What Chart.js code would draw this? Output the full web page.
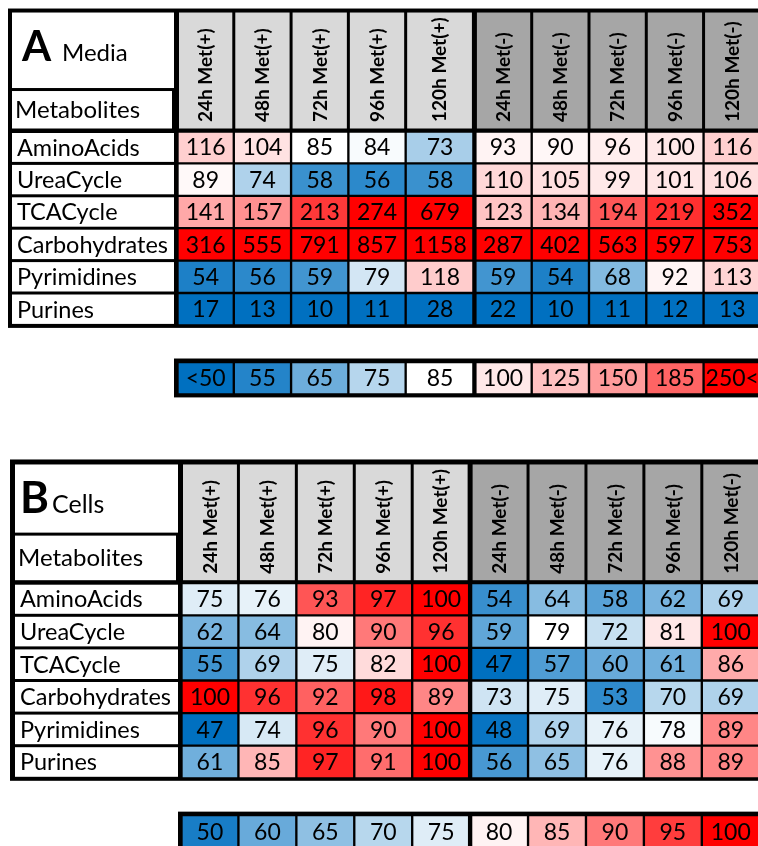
<!DOCTYPE html>
<html>
<head>
<meta charset="utf-8">
<script src="https://cdn.jsdelivr.net/npm/chart.js@4.4.1/dist/chart.umd.min.js"></script>
<style>
  html, body { margin: 0; padding: 0; background: #fff; }
  canvas { display: block; }
</style>
</head>
<body>
<canvas id="media" width="758" height="430"></canvas>
<canvas id="cells" width="758" height="416"></canvas>
<script>
// ---- data ---------------------------------------------------------------
const timepoints = ['24h Met(+)', '48h Met(+)', '72h Met(+)', '96h Met(+)', '120h Met(+)',
                    '24h Met(-)', '48h Met(-)', '72h Met(-)', '96h Met(-)', '120h Met(-)'];
const metabolites = ['AminoAcids', 'UreaCycle', 'TCACycle', 'Carbohydrates', 'Pyrimidines', 'Purines'];

// Media: relative levels per metabolite class and timepoint
const mediaValues = [
  [116, 104,  85,  84,   73,  93,  90,  96, 100, 116],
  [ 89,  74,  58,  56,   58, 110, 105,  99, 101, 106],
  [141, 157, 213, 274,  679, 123, 134, 194, 219, 352],
  [316, 555, 791, 857, 1158, 287, 402, 563, 597, 753],
  [ 54,  56,  59,  79,  118,  59,  54,  68,  92, 113],
  [ 17,  13,  10,  11,   28,  22,  10,  11,  12,  13]
];
// Cells: relative levels per metabolite class and timepoint
const cellValues = [
  [ 75,  76,  93,  97, 100,  54,  64,  58,  62,  69],
  [ 62,  64,  80,  90,  96,  59,  79,  72,  81, 100],
  [ 55,  69,  75,  82, 100,  47,  57,  60,  61,  86],
  [100,  96,  92,  98,  89,  73,  75,  53,  70,  69],
  [ 47,  74,  96,  90, 100,  48,  69,  76,  78,  89],
  [ 61,  85,  97,  91, 100,  56,  65,  76,  88,  89]
];

// colour keys
const mediaKeyValues = [50, 55, 65, 75, 85, 100, 125, 150, 185, 250];
const mediaKeyLabels = ['<50', '55', '65', '75', '85', '100', '125', '150', '185', '250<'];
const cellKeyValues  = [50, 60, 65, 70, 75, 80, 85, 90, 95, 100];
const cellKeyLabels  = ['50', '60', '65', '70', '75', '80', '85', '90', '95', '100'];

// ---- styling --------------------------------------------------------------
const FONT = 'Lato, "Open Sans", sans-serif';
const CAP = 0.7165;                 // cap height / em for Lato
const VALUE_SIZE = 23, ROW_SIZE = 23.5, HEAD_SIZE = 19;
const BLUE = [0, 112, 192], WHITE = [255, 255, 255], RED = [255, 0, 0];
const HEAD_FILL = ['#d9d9d9', '#a6a6a6'];   // Met(+) / Met(-)
const KEY_ROW = 7.63;                // row position of the colour key strip
const FRAME_TOP = -3.78;             // top of the table frame, in row units

function heatColor(v, r) {
  let t, target;
  if (v <= r.mid) { t = (r.mid - Math.max(v, r.lo)) / (r.mid - r.lo); target = BLUE; }
  else { t = (Math.min(v, r.hi) - r.mid) / (r.hi - r.mid); target = RED; }
  const c = WHITE.map((w, i) => Math.round(w + (target[i] - w) * t));
  return `rgb(${c[0]},${c[1]},${c[2]})`;
}

const panels = [
  {
    canvas: 'media', letter: 'A', title: 'Media', letterSize: 42, titleSize: 24,
    letterX: 14, titleX: 54, titleY: -2.15,
    values: mediaValues, keyValues: mediaKeyValues, keyLabels: mediaKeyLabels,
    range: { lo: 50, mid: 85, hi: 250 },
    colUnits: [1, 1, 1, 1, 1.2, 1, 1, 1, 1, 1], xMax: 10.15, yMax: 8.3,
    padding: { left: 176.5, right: 0, top: 7.88, bottom: 30.08 },
    labelWidth: 168.5, frame: 4, split: -1.28
  },
  {
    canvas: 'cells', letter: 'B', title: 'Cells', letterSize: 44, titleSize: 25,
    letterX: 10, titleX: 42, titleY: -2.15,
    values: cellValues, keyValues: cellKeyValues, keyLabels: cellKeyLabels,
    range: { lo: 47, mid: 79, hi: 100 },
    colUnits: [1, 1, 1, 1, 1, 1, 1, 1, 1, 1], xMax: 9.97, yMax: 8.0,
    padding: { left: 180.5, right: 0, top: 28.82, bottom: 2.5 },
    labelWidth: 170.5, frame: 5, split: -1.49
  }
];

const sideBorder = j => ({ left: (j === 0 || j === 5) ? 2.5 : 1.5, right: j === 4 ? 2.5 : 1.5 });

// Frame, header band, row-name column and all text, placed through the chart scales
function tablePlugin(p, edges) {
  return {
    id: 'table' + p.letter,
    beforeDatasetsDraw(chart) {
      const { ctx, scales: { x, y } } = chart;
      const W = chart.width;
      const x0 = x.getPixelForValue(0);
      const fl = x0 - p.labelWidth;
      const top = y.getPixelForValue(FRAME_TOP);
      const headBottom = y.getPixelForValue(0) - 2.5;
      ctx.save();
      ctx.fillStyle = '#000';
      // main table frame
      ctx.fillRect(fl, top, W - fl, y.getPixelForValue(metabolites.length) + 2.5 - top);
      // key strip frame
      const kt = y.getPixelForValue(KEY_ROW - 0.5) - 3.5;
      const kb = y.getPixelForValue(KEY_ROW + 0.5) + 3;
      ctx.fillRect(x0 - 2.5, kt, W - x0 + 2.5, kb - kt);
      // header cells
      timepoints.forEach((tp, j) => {
        const b = sideBorder(j);
        const l = x.getPixelForValue(edges[j]) + b.left;
        const r = x.getPixelForValue(edges[j + 1]) - b.right;
        ctx.fillStyle = HEAD_FILL[j < 5 ? 0 : 1];
        ctx.fillRect(l, top + p.frame, r - l, headBottom - top - p.frame);
      });
      // left column: title box, "Metabolites" box, row names
      const il = fl + p.frame, ir = x0 - 2.5;
      const sp = y.getPixelForValue(p.split);
      ctx.fillStyle = '#fff';
      ctx.fillRect(il, top + p.frame, ir - il, sp - 1.5 - top - p.frame);
      ctx.fillRect(il, sp + 1.5, ir - 2 - il, headBottom - sp - 1.5);
      metabolites.forEach((m, i) => {
        const t = y.getPixelForValue(i) + (i === 0 ? 2 : 1.5);
        const bt = y.getPixelForValue(i + 1) - 1.5;
        ctx.fillRect(il, t, ir - il, bt - t);
      });
      ctx.restore();
    },
    afterDatasetsDraw(chart) {
      const { ctx, scales: { x, y } } = chart;
      const x0 = x.getPixelForValue(0);
      const fl = x0 - p.labelWidth;
      const il = fl + p.frame;
      const headBottom = y.getPixelForValue(0) - 2.5;
      const sp = y.getPixelForValue(p.split);
      ctx.save();
      ctx.fillStyle = '#000';
      ctx.textBaseline = 'alphabetic';

      // cell values and key labels
      ctx.font = `${VALUE_SIZE}px ${FONT}`;
      ctx.textAlign = 'center';
      chart.data.datasets.forEach((ds, j) => {
        chart.getDatasetMeta(j).data.forEach((el, i) => {
          const cx = (el.x + el.base) / 2 + (j === 0 ? 0.5 : 0);
          ctx.fillText(ds.texts[i], cx, el.y + CAP * VALUE_SIZE / 2);
        });
      });

      // row names
      ctx.font = `${ROW_SIZE}px ${FONT}`;
      ctx.textAlign = 'left';
      metabolites.forEach((m, i) => {
        ctx.fillText(m, il + 5, y.getPixelForValue(i + 0.5) + CAP * ROW_SIZE / 2);
      });

      // "Metabolites" heading
      ctx.font = `24px ${FONT}`;
      ctx.fillText('Metabolites', il + 3, (sp + headBottom) / 2 + CAP * 24 / 2);

      // panel letter and title
      const ty = y.getPixelForValue(p.titleY);
      ctx.font = `bold ${p.letterSize}px ${FONT}`;
      ctx.fillText(p.letter, fl + p.letterX, ty);
      ctx.font = `${p.titleSize}px ${FONT}`;
      ctx.fillText(p.title, fl + p.titleX, ty);

      // rotated column headings
      ctx.font = `bold ${HEAD_SIZE}px ${FONT}`;
      timepoints.forEach((tp, j) => {
        const b = sideBorder(j);
        const l = x.getPixelForValue(edges[j]) + b.left;
        const r = x.getPixelForValue(edges[j + 1]) - b.right;
        ctx.save();
        ctx.translate((l + r) / 2 + CAP * HEAD_SIZE / 2, headBottom - 6.5);
        ctx.rotate(-Math.PI / 2);
        ctx.textAlign = 'left';
        ctx.fillText(tp, 0, 0);
        ctx.restore();
      });
      ctx.restore();
    }
  };
}

panels.forEach(p => {
  const edges = [0];
  p.colUnits.forEach(u => edges.push(edges[edges.length - 1] + u));

  const datasets = timepoints.map((tp, j) => {
    const vals = p.values.map(row => row[j]).concat([p.keyValues[j]]);
    const texts = p.values.map(row => String(row[j])).concat([p.keyLabels[j]]);
    const rowsAt = p.values.map((row, i) => i + 0.5).concat([KEY_ROW]);
    return {
      label: tp,
      data: rowsAt.map(r => ({ x: [edges[j], edges[j + 1]], y: r })),
      texts: texts,
      backgroundColor: vals.map(v => heatColor(v, p.range)),
      borderColor: '#000',
      borderWidth: ctx => Object.assign({ top: ctx.dataIndex === 0 ? 2 : 1.5, bottom: 1.5 }, sideBorder(j)),
      borderSkipped: false,
      grouped: false,
      barPercentage: 1,
      categoryPercentage: 1,
      clip: false
    };
  });

  new Chart(document.getElementById(p.canvas), {
    type: 'bar',
    data: { datasets },
    options: {
      indexAxis: 'y',
      responsive: false,
      animation: false,
      events: [],
      devicePixelRatio: 1,
      layout: { padding: p.padding },
      scales: {
        x: { type: 'linear', min: 0, max: p.xMax, offset: false, display: false },
        y: {
          type: 'linear', reverse: true, min: -3.8, max: p.yMax, offset: false, display: false,
          afterBuildTicks: s => {
            const t = [];
            for (let v = Math.ceil(s.min); v <= Math.floor(s.max); v++) t.push({ value: v });
            s.ticks = t;
          }
        }
      },
      plugins: { legend: { display: false }, tooltip: { enabled: false } }
    },
    plugins: [tablePlugin(p, edges)]
  });
});
</script>
</body>
</html>
